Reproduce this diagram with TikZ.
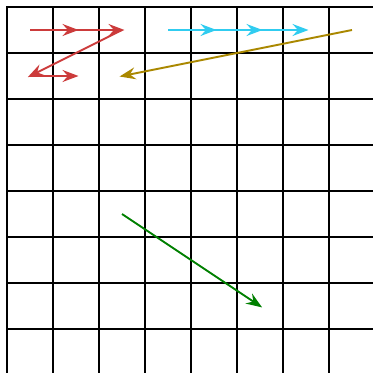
\documentclass[tikz,border=0pt]{standalone}
\usetikzlibrary{arrows.meta}
\definecolor{mvred}{HTML}{CC3B3B}
\definecolor{mvcyan}{HTML}{30CCF0}
\definecolor{mvolive}{HTML}{AA8800}
\definecolor{mvgreen}{HTML}{008000}
\begin{document}
\begin{tikzpicture}[x=1pt,y=-1pt,
  gridline/.style={line width=2.2pt,black},
  mv/.style={line width=1.9pt,-{Stealth[length=16pt,width=12pt,inset=5.5pt]},shorten >=-2.5pt}]
\useasboundingbox (0,0) rectangle (373,373);
\fill[white] (0,0) rectangle (373,373);
\begin{scope}
\clip (0,0) rectangle (373,373);
\foreach \i in {0,...,7}{
  \draw[gridline] (7+46*\i,6) -- (7+46*\i,380);
  \draw[gridline] (6,7+46*\i) -- (380,7+46*\i);
}
\end{scope}
\foreach \i in {0,...,7}{\foreach \j in {0,...,7}{\coordinate (c\i\j) at (30+46*\i,30+46*\j);}}
% red
\draw[mv,mvred] (c00) -- (c10);
\draw[mv,mvred] (c10) -- (c20);
\draw[mv,mvred] (c20) -- (c01);
\draw[mv,mvred] (c01) -- (c11);
% cyan
\draw[mv,mvcyan] (c30) -- (c40);
\draw[mv,mvcyan] (c40) -- (c50);
\draw[mv,mvcyan] (c50) -- (c60);
% olive
\draw[mv,mvolive] (c70) -- (c21);
% green
\draw[mv,mvgreen] (c24) -- (c56);
\end{tikzpicture}
\end{document}
